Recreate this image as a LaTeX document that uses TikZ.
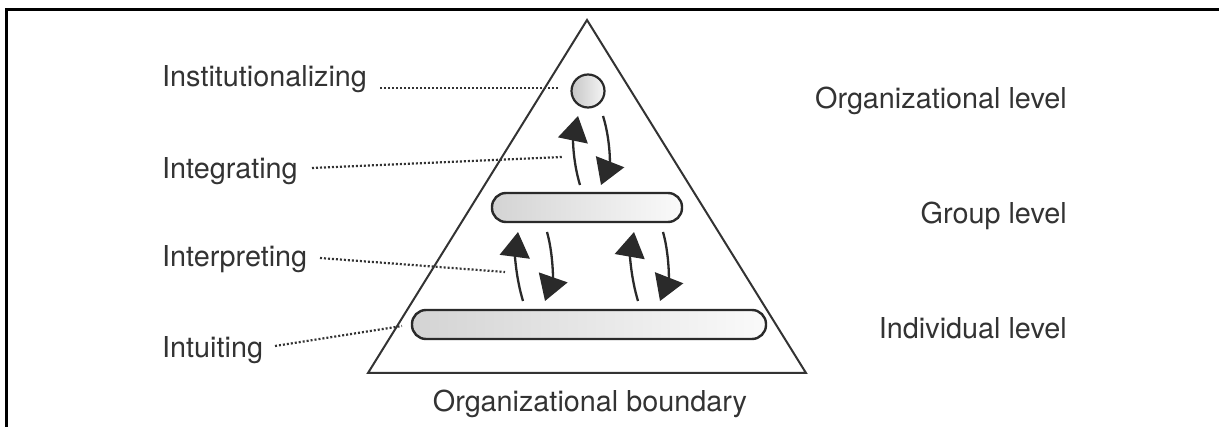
\documentclass[tikz,border=0pt]{standalone}
\usepackage{fontspec}
\setmainfont{TeX Gyre Heros}
\usetikzlibrary{arrows.meta}
\definecolor{ink}{HTML}{333333}
\definecolor{arr}{HTML}{2A2A2A}
\tikzset{
  lbl/.style={text=ink, inner sep=0pt, font=\fontsize{28.8}{34}\selectfont},
  leader/.style={ink, line width=2.2pt, dash pattern=on 2pt off 2pt},
  barbox/.style={draw=arr, line width=2.4pt, rounded corners=14pt, left color=black!17, right color=black!2, minimum height=29pt, inner sep=0pt},
  ballnode/.style={circle, draw=arr, line width=2.2pt, left color=black!22, right color=black!4, minimum size=33pt, inner sep=0pt},
  flow/.style={arr, line width=2.3pt, -{Triangle[length=25pt,width=30pt]}},
}
\begin{document}
\begin{tikzpicture}[x=1pt,y=-1pt]
\useasboundingbox (0,0) rectangle (1219,427);
% frame
\draw[black, line width=3pt] (6,432) -- (6,10) -- (1225,10);
% triangle (organizational boundary)
\draw[ink, line width=2pt, line join=miter] (587,20) -- (806,373) -- (368,373) -- cycle;
% level shapes
\node[ballnode] (ball) at (588,91) {};
\node[barbox, minimum width=190pt] (group) at (587,207.5) {};
\node[barbox, minimum width=354pt] (indiv) at (589,324.5) {};
% arrows organizational <-> group
\coordinate (a1s) at (580,185); \coordinate (a1e) at (578,116);
\coordinate (a2s) at (603,116); \coordinate (a2e) at (601,185);
\draw[flow] (a1s) .. controls (573,162) and (573,140) .. (a1e);
\draw[flow] (a2s) .. controls (610,138) and (610,162) .. (a2e);
% arrows group <-> individual (left pair)
\coordinate (b1s) at (523,301); \coordinate (b1e) at (518,232);
\coordinate (b2s) at (547,232); \coordinate (b2e) at (545,301);
\draw[flow] (b1s) .. controls (516,278) and (515,255) .. (b1e);
\draw[flow] (b2s) .. controls (553,253) and (553,278) .. (b2e);
% arrows group <-> individual (right pair)
\coordinate (c1s) at (638,301); \coordinate (c1e) at (634,232);
\coordinate (c2s) at (663,232); \coordinate (c2e) at (660,301);
\draw[flow] (c1s) .. controls (631,278) and (630,255) .. (c1e);
\draw[flow] (c2s) .. controls (669,253) and (669,278) .. (c2e);
% left labels
\node[lbl, anchor=base west] (inst) at (162,87) {Institutionalizing};
\node[lbl, anchor=base west] (integ) at (162,179) {Integrating};
\node[lbl, anchor=base west] (interp) at (162,267) {Interpreting};
\node[lbl, anchor=base west] (intu) at (162,358) {Intuiting};
% leaders
\coordinate (l1a) at (380,88); \coordinate (l1b) at (558,88);
\coordinate (l2a) at (312,168); \coordinate (l2b) at (562,157);
\coordinate (l3a) at (320,258); \coordinate (l3b) at (505,272);
\coordinate (l4a) at (275,346); \coordinate (l4b) at (402,326);
\draw[leader] (l1a) -- (l1b);
\draw[leader] (l2a) -- (l2b);
\draw[leader] (l3a) -- (l3b);
\draw[leader] (l4a) -- (l4b);
% right labels
\node[lbl, anchor=base east] (orgl) at (1067,109) {Organizational level};
\node[lbl, anchor=base east] (grpl) at (1067,224) {Group level};
\node[lbl, anchor=base east] (indl) at (1067,339) {Individual level};
% bottom label
\node[lbl, anchor=base] (bound) at (590,412) {Organizational boundary};
\end{tikzpicture}
\end{document}
